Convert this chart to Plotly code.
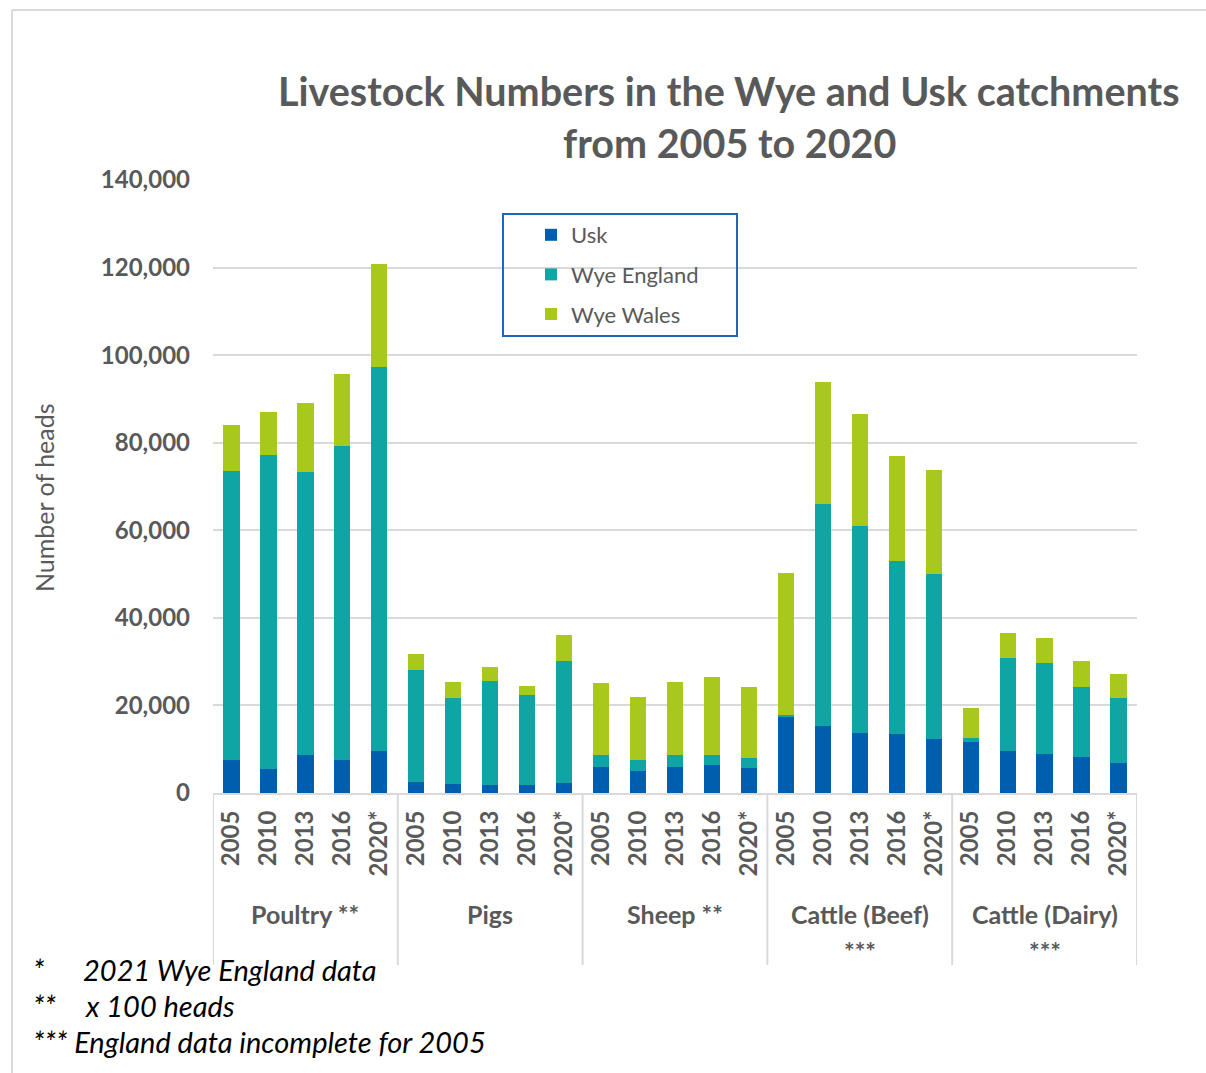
import plotly.graph_objects as go

groups = ["Poultry **", "Pigs", "Sheep **", "Cattle (Beef)", "Cattle (Dairy)"]
group_sub = ["", "", "", "***", "***"]
years = ["2005", "2010", "2013", "2016", "2020*"]

usk = [7600, 5500, 8700, 7600, 9600,
       2600, 2100, 1800, 1800, 2300,
       6000, 5100, 6000, 6300, 5700,
       17300, 15200, 13700, 13400, 12300,
       11700, 9700, 8800, 8200, 6800]
wye_england = [66000, 71700, 64700, 71600, 87700,
               25600, 19700, 23800, 20500, 27900,
               2600, 2500, 2600, 2300, 2400,
               600, 50700, 47200, 39600, 37700,
               900, 21100, 20800, 16100, 14900]
wye_wales = [10500, 9800, 15600, 16500, 23600,
             3500, 3500, 3100, 2100, 6000,
             16500, 14400, 16700, 17900, 16000,
             32400, 27900, 25600, 24000, 23800,
             6700, 5800, 5800, 5800, 5500]

series = [("Usk", usk, "#005EAE"),
          ("Wye England", wye_england, "#0FA5A5"),
          ("Wye Wales", wye_wales, "#A8C81E")]

n_per = len(years)
xs = list(range(len(groups) * n_per))
tick_text = years * len(groups)

GRAY = "#595959"
FONT = "Lato"

fig = go.Figure()
for i, (name, vals, col) in enumerate(series):
    fig.add_trace(go.Bar(x=xs, y=vals, name=name, marker=dict(color=col, line=dict(width=0)),
                         legendgroup=name))

# plot area pixel geometry
L, R, T, B = 213, 1137, 180, 793
W, H = R - L, B - T
def px(x):
    return (x - L) / W
def py(y):
    return (B - y) / H

shapes = []
for k in range(len(groups) + 1):
    xv = k * n_per - 0.5
    shapes.append(dict(type="line", xref="x", yref="paper", x0=xv, x1=xv, y0=0, y1=py(965),
                       line=dict(color="#D9D9D9", width=2)))
# outer chart border
shapes.append(dict(type="line", xref="paper", yref="paper", x0=px(12), x1=px(12), y0=py(10), y1=py(1080),
                   line=dict(color="#D9D9D9", width=2)))
shapes.append(dict(type="line", xref="paper", yref="paper", x0=px(12), x1=px(1210), y0=py(10), y1=py(10),
                   line=dict(color="#D9D9D9", width=2)))
# legend box
shapes.append(dict(type="rect", xref="paper", yref="paper", x0=px(503), x1=px(737), y0=py(336), y1=py(214),
                   line=dict(color="#1F66B8", width=2), fillcolor="rgba(0,0,0,0)"))

annotations = []
for g, (name, sub) in enumerate(zip(groups, group_sub)):
    annotations.append(dict(text=name, xref="x", yref="paper", x=g * n_per + 2, y=py(914),
                            showarrow=False, xanchor="center", yanchor="middle",
                            font=dict(family=FONT, size=25, color=GRAY, weight="bold")))
    if sub:
        annotations.append(dict(text=sub, xref="x", yref="paper", x=g * n_per + 2, y=py(951),
                                showarrow=False, xanchor="center", yanchor="middle",
                                font=dict(family=FONT, size=25, color=GRAY, weight="bold")))

# title
annotations.append(dict(text="Livestock Numbers in the Wye and Usk catchments", xref="paper", yref="paper",
                        x=px(729), y=py(91), showarrow=False, xanchor="center", yanchor="middle",
                        font=dict(family=FONT, size=39.5, color=GRAY, weight="bold")))
annotations.append(dict(text="from 2005 to 2020", xref="paper", yref="paper",
                        x=px(729), y=py(142), showarrow=False, xanchor="center", yanchor="middle",
                        font=dict(family=FONT, size=39.5, color=GRAY, weight="bold")))
# y axis title
annotations.append(dict(text="Number of heads", xref="paper", yref="paper", x=px(44), y=py(498),
                        showarrow=False, textangle=-90, xanchor="center", yanchor="middle",
                        font=dict(family=FONT, size=25, color=GRAY)))
# footnotes
foot = dict(family=FONT, size=29, color="#000000", style="italic")
annotations += [
    dict(text="*", x=px(31), y=py(969)),
    dict(text="2021 Wye England data", x=px(81), y=py(969)),
    dict(text="**", x=px(31), y=py(1005)),
    dict(text="x 100 heads", x=px(83), y=py(1005)),
    dict(text="*** England data incomplete for 2005", x=px(31), y=py(1041)),
]
for a in annotations[-5:]:
    a.update(xref="paper", yref="paper", showarrow=False, xanchor="left", yanchor="middle", font=foot)

fig.update_layout(
    barmode="stack",
    bargap=0.56,
    width=1206, height=1073,
    margin=dict(l=L, r=1206 - R, t=T, b=1073 - B, autoexpand=False),
    paper_bgcolor="white", plot_bgcolor="white",
    font=dict(family=FONT, color=GRAY),
    showlegend=True,
    legend=dict(x=px(531), y=py(214), xanchor="left", yanchor="top",
                bgcolor="rgba(0,0,0,0)", borderwidth=0,
                font=dict(family=FONT, size=22, color=GRAY),
                traceorder="grouped", tracegroupgap=8, itemwidth=30),
    shapes=shapes,
    annotations=annotations,
)
fig.update_xaxes(tickmode="array", tickvals=xs, ticktext=tick_text, tickangle=-90,
                 range=[-0.5, len(xs) - 0.5], showgrid=False, showline=True,
                 linecolor="#D9D9D9", linewidth=2, ticks="", ticklabelstandoff=6,
                 tickfont=dict(family=FONT, size=24, color=GRAY, weight="bold"))
fig.update_yaxes(range=[0, 140000], tickvals=[0, 20000, 40000, 60000, 80000, 100000, 120000, 140000],
                 tickformat=",", showgrid=True, gridcolor="#D9D9D9", gridwidth=2,
                 zeroline=False, showline=False, ticks="", ticklabelstandoff=22,
                 tickfont=dict(family=FONT, size=24, color=GRAY, weight="bold"))

fig.write_html("out.html")
